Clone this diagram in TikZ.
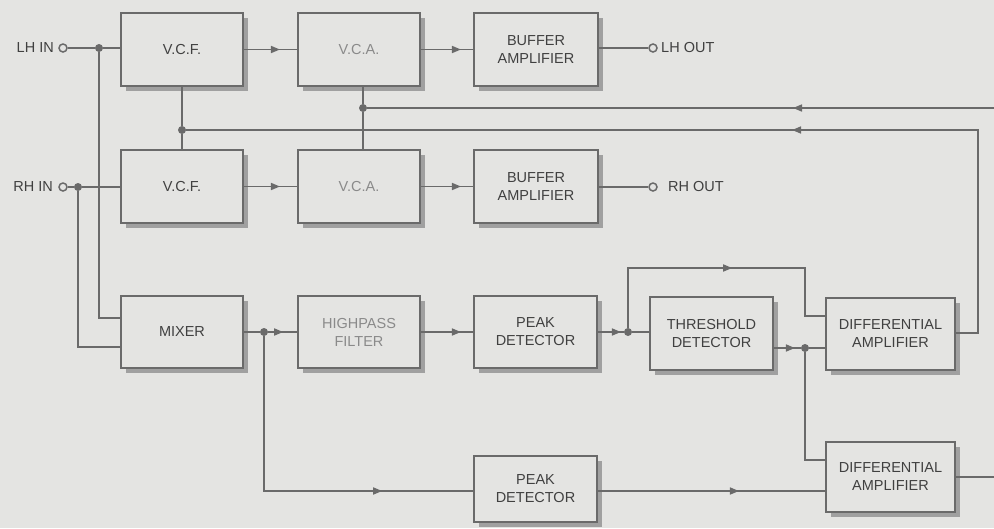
\documentclass[tikz,border=0pt]{standalone}
\usepackage{fontspec}
\setmainfont{Liberation Sans}
\usetikzlibrary{arrows.meta,decorations.markings,shadows,calc}
\definecolor{paper}{HTML}{E4E4E2}
\definecolor{ink}{HTML}{6A6A6A}
\definecolor{txt}{HTML}{404040}
\definecolor{pale}{HTML}{8A8A8A}
\definecolor{shade}{HTML}{A0A0A0}
\tikzset{
  box/.style={draw=ink, line width=1.9pt, fill=paper, minimum width=122pt,
    minimum height=73pt, align=center, text=txt, inner sep=2pt,
    font=\fontsize{14.5}{18}\selectfont,
    drop shadow={shadow xshift=5pt, shadow yshift=-5pt, fill=shade, opacity=1}},
  wire/.style={draw=ink, line width=1.6pt},
  dotj/.style={circle, fill=ink, inner sep=0pt, minimum size=8pt},
  term/.style={circle, draw=ink, fill=paper, line width=1.5pt, inner sep=0pt, minimum size=8pt},
  lbl/.style={text=txt, font=\fontsize{14.5}{18}\selectfont, inner sep=0pt},
  marr/.style={postaction={decorate}, decoration={markings,
    mark=at position #1 with {\arrow[ink]{Triangle[length=9pt,width=7pt]}}}}
}
\begin{document}
\begin{tikzpicture}[x=1pt,y=-1pt]
\useasboundingbox (0,0) rectangle (994,528);
\fill[paper] (0,0) rectangle (994,528);

% boxes
\node[box] (vcf1) at (182,49.5) {V.C.F.};
\node[box, text=pale] (vca1) at (359,49.5) {V.C.A.};
\node[box, minimum width=124pt] (buf1) at (536,49.5) {BUFFER\\AMPLIFIER};
\node[box] (vcf2) at (182,186.5) {V.C.F.};
\node[box, text=pale] (vca2) at (359,186.5) {V.C.A.};
\node[box, minimum width=124pt] (buf2) at (536,186.5) {BUFFER\\AMPLIFIER};
\node[box, minimum height=72pt] (mixer) at (182,332) {MIXER};
\node[box, minimum height=72pt, text=pale] (hpf) at (359,332) {HIGHPASS\\FILTER};
\node[box, minimum height=72pt, minimum width=123pt] (pk1) at (535.5,332) {PEAK\\DETECTOR};
\node[box, minimum width=123pt] (thr) at (711.5,333.5) {THRESHOLD\\DETECTOR};
\node[box, minimum width=129pt, minimum height=72pt] (da1) at (890.5,334) {DIFFERENTIAL\\AMPLIFIER};
\node[box, minimum width=129pt, minimum height=70pt] (da2) at (890.5,477) {DIFFERENTIAL\\AMPLIFIER};
\node[box, minimum width=123pt, minimum height=66pt] (pk2) at (535.5,489) {PEAK\\DETECTOR};

% terminals and labels
\node[lbl, anchor=east] (lhinl) at (54,48) {LH IN};
\node[lbl, anchor=east] (rhinl) at (53,187) {RH IN};
\node[term] (lhin) at (63,48) {};
\node[term] (rhin) at (63,187) {};
\node[term] (lhout) at (653,48) {};
\node[term] (rhout) at (653,187) {};
\node[lbl, anchor=west] (lhoutl) at (661,48) {LH OUT};
\node[lbl, anchor=west] (rhoutl) at (668,187) {RH OUT};

% junctions
\node[dotj] (j1) at (99,48) {};
\node[dotj] (j2) at (78,187) {};
\node[dotj] (j3) at (182,130) {};
\node[dotj] (j4) at (363,108) {};
\node[dotj] (j5) at (264,332) {};
\node[dotj] (j6) at (628,332) {};
\node[dotj] (j7) at (805,348) {};

\coordinate (m1) at (121,318);
\coordinate (m2) at (121,347);
\coordinate (e1) at (994,108);
\coordinate (e2) at (994,477);
\coordinate (c1) at (978,130);
\coordinate (c2) at (264,491);
\coordinate (c3) at (628,268);
\coordinate (c4) at (805,268);
\coordinate (c5) at (805,316);
\coordinate (c6) at (805,460);

% inputs
\draw[wire] (lhin) -- (j1) -- (j1 -| vcf1.west);
\draw[wire] (j1) |- (m1);
\draw[wire] (rhin) -- (j2) -- (j2 -| vcf2.west);
\draw[wire] (j2) |- (m2);

% upper chains
\draw[wire, marr=36pt] (vcf1) -- (vca1);
\draw[wire, marr=40pt] (vca1) -- (buf1);
\draw[wire] (buf1.east |- lhout) -- (lhout);
\draw[wire, marr=36pt] (vcf2) -- (vca2);
\draw[wire, marr=40pt] (vca2) -- (buf2);
\draw[wire] (buf2.east |- rhout) -- (rhout);

% control lines
\draw[wire] (vcf1) -- (j3) -- (vcf2);
\draw[wire] (vca1.south -| j4) -- (j4) -- (vca2.north -| j4);
\draw[wire, marr=201pt] (e1) -- (j4);
\draw[wire, marr=411pt] (da1.east |- 0,333) -- (c1 |- 0,333) -- (c1) -- (j3);

% lower chain
\draw[wire] (mixer) -- (j5);
\draw[wire, marr=15pt] (j5) -- (hpf);
\draw[wire, marr=273pt] (j5) |- (pk2.west |- c2);
\draw[wire, marr=40pt] (hpf) -- (pk1);
\draw[wire, marr=23pt] (pk1) -- (j6);
\draw[wire] (j6) -- (thr.west |- j6);
\draw[wire, marr=164pt] (j6) -- (c3) -- (c4) -- (c5) -- (c5 -| da1.west);
\draw[wire, marr=21pt] (thr.east |- j7) -- (j7);
\draw[wire] (j7) -- (j7 -| da1.west);
\draw[wire] (j7) |- (da2.west |- c6);
\draw[wire, marr=141pt] (pk2.east |- c2) -- (da2.west |- c2);
\draw[wire] (da2) -- (e2);
\end{tikzpicture}
\end{document}
